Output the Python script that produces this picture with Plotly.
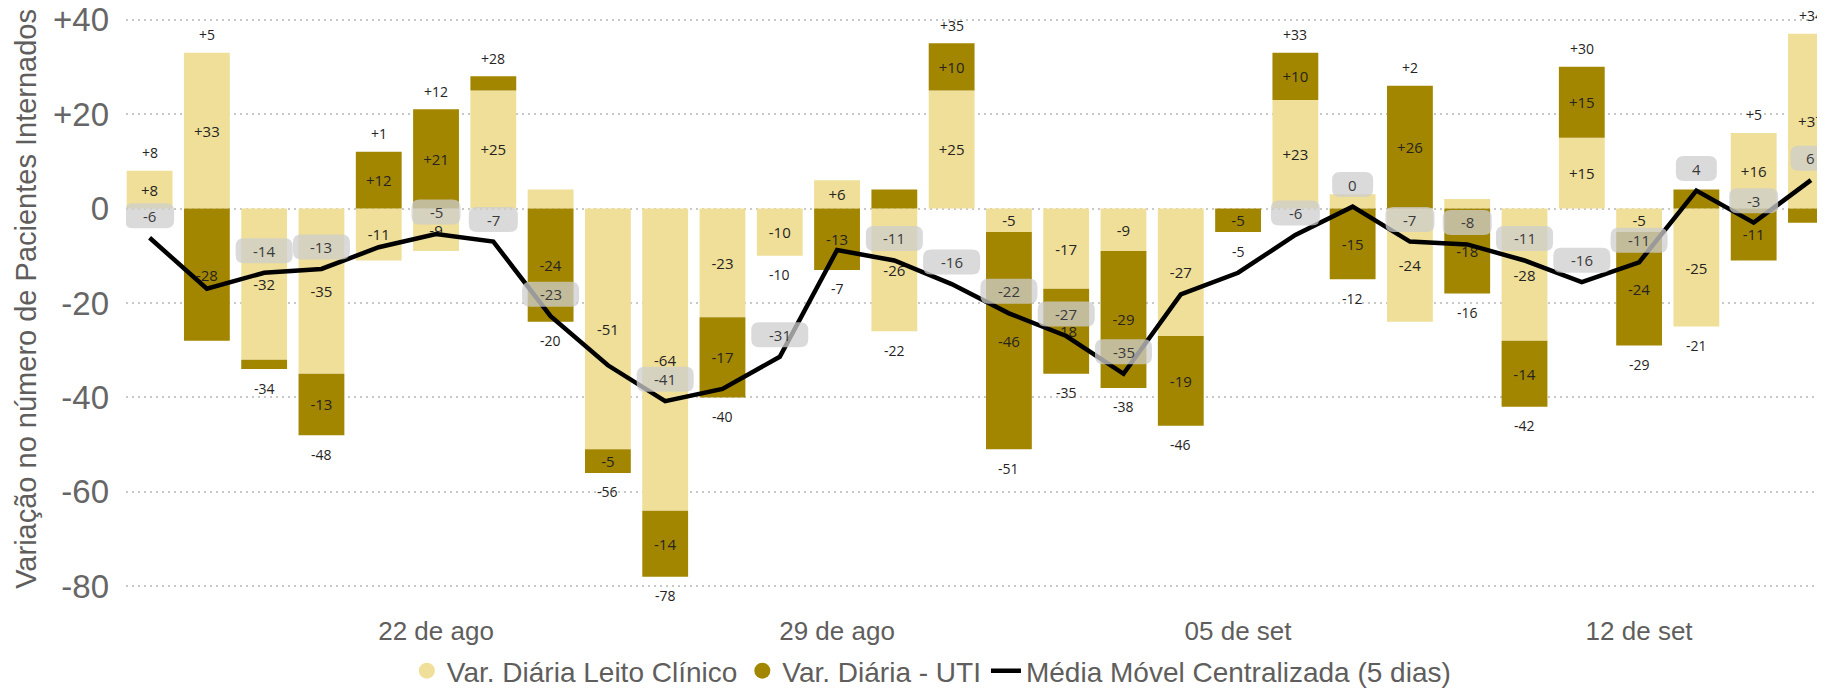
import plotly.graph_objects as go

# ---------------- data ----------------
dates = ["2020-08-17", "2020-08-18", "2020-08-19", "2020-08-20", "2020-08-21",
         "2020-08-22", "2020-08-23", "2020-08-24", "2020-08-25", "2020-08-26",
         "2020-08-27", "2020-08-28", "2020-08-29", "2020-08-30", "2020-08-31",
         "2020-09-01", "2020-09-02", "2020-09-03", "2020-09-04", "2020-09-05",
         "2020-09-06", "2020-09-07", "2020-09-08", "2020-09-09", "2020-09-10",
         "2020-09-11", "2020-09-12", "2020-09-13", "2020-09-14", "2020-09-15"]

leito_clinico = [8, 33, -32, -35, -11, -9, 25, 4, -51, -64,
                 -23, -10, 6, -26, 25, -5, -17, -9, -27, 0,
                 23, 3, -24, 2, -28, 15, -5, -25, 16, 37]

uti = [0, -28, -2, -13, 12, 21, 3, -24, -5, -14,
       -17, 0, -13, 4, 10, -46, -18, -29, -19, -5,
       10, -15, 26, -18, -14, 15, -24, 4, -11, -3]

media_movel = [-6.2, -17.0, -13.6, -12.8, -8.2, -5.4, -7.0, -22.8, -33.2, -40.8,
               -38.2, -31.4, -8.8, -11.0, -16.0, -22.2, -27.0, -35.0, -18.2, -13.6,
               -5.6, 0.4, -7.0, -7.6, -11.0, -15.6, -11.4, 3.8, -3.0, 6.0]

# which moving-average labels are visible in the original (others hidden by overlap)
media_label_visivel = [1, 0, 1, 1, 0, 1, 1, 1, 0, 1,
                       0, 1, 0, 1, 1, 1, 1, 1, 0, 0,
                       1, 1, 1, 1, 1, 1, 1, 1, 1, 1]

tick_dates = ["2020-08-22", "2020-08-29", "2020-09-05", "2020-09-12"]
tick_labels = ["22 de ago", "29 de ago", "05 de set", "12 de set"]

y_ticks = [40, 20, 0, -20, -40, -60, -80]
y_tick_labels = ["+40", "+20", "0", "-20", "-40", "-60", "-80"]

titulo_y = "Variação no número de Pacientes Internados"
nome_clinico = "Var. Diária Leito Clínico"
nome_uti = "Var. Diária - UTI"
nome_media = "Média Móvel Centralizada (5 dias)"

# ---------------- style ----------------
LIGHT = "#EFDF99"
DARK = "#A38600"
LABEL_FONT = "Segoe UI, Open Sans, sans-serif"
AXIS_FONT = "Liberation Sans, Arial, sans-serif"
TXT = "#252423"
GRID = "#C8C8C8"

# the page places the figure 8px in from the top-left corner of the window,
# so the figure is sized to fill the rest of the 1825x688 window exactly
FIG_W, FIG_H = 1817, 680
M_L, M_B = 118, 83


def seg_text(vals):
    return [f"{v:+d}" if abs(v) >= 5 else "" for v in vals]


fig = go.Figure()

fig.add_trace(go.Bar(
    x=dates, y=leito_clinico, name=nome_clinico, marker_color=LIGHT,
    marker_line_width=0,
    text=seg_text(leito_clinico), textposition="inside",
    insidetextanchor="middle", textangle=0,
    textfont=dict(size=15, color=TXT, family=LABEL_FONT),
    showlegend=False, hoverinfo="skip"))

fig.add_trace(go.Bar(
    x=dates, y=uti, name=nome_uti, marker_color=DARK,
    marker_line_width=0,
    text=seg_text(uti), textposition="inside",
    insidetextanchor="middle", textangle=0,
    textfont=dict(size=15, color=TXT, family=LABEL_FONT),
    showlegend=False, hoverinfo="skip"))

# legend proxies (circle markers)
fig.add_trace(go.Scatter(x=[None], y=[None], mode="markers", name=nome_clinico,
                         marker=dict(symbol="circle", size=17, color=LIGHT)))
fig.add_trace(go.Scatter(x=[None], y=[None], mode="markers", name=nome_uti,
                         marker=dict(symbol="circle", size=17, color=DARK)))

fig.add_trace(go.Scatter(
    x=dates, y=media_movel, mode="lines", name=nome_media,
    line=dict(color="black", width=4.5), hoverinfo="skip"))

annotations = []
shapes = []

# totals above / below stacks
for d, c, u in zip(dates, leito_clinico, uti):
    total = c + u
    pos = max(c, 0) + max(u, 0)
    neg = min(c, 0) + min(u, 0)
    if total >= 0:
        annotations.append(dict(x=d, y=pos, yshift=18, text=f"{total:+d}",
                                showarrow=False,
                                font=dict(size=14, color=TXT, family=LABEL_FONT)))
    else:
        annotations.append(dict(x=d, y=neg, yshift=-19, text=f"{total:+d}",
                                showarrow=False,
                                font=dict(size=14, color=TXT, family=LABEL_FONT)))

# moving average label boxes
BOX_H = 25
BOX_R = 8
BOX_UP = 22
for d, v, show in zip(dates, media_movel, media_label_visivel):
    if not show:
        continue
    t = f"{round(v):d}"
    w = 33 + 8 * len(t)
    x0, x1 = -w / 2, w / 2
    y0, y1 = BOX_UP - BOX_H / 2, BOX_UP + BOX_H / 2
    r = BOX_R
    path = (f"M {x0 + r},{y0} L {x1 - r},{y0} Q {x1},{y0} {x1},{y0 + r} "
            f"L {x1},{y1 - r} Q {x1},{y1} {x1 - r},{y1} L {x0 + r},{y1} "
            f"Q {x0},{y1} {x0},{y1 - r} L {x0},{y0 + r} Q {x0},{y0} {x0 + r},{y0} Z")
    shapes.append(dict(type="path", xref="x", yref="y",
                       xsizemode="pixel", ysizemode="pixel",
                       xanchor=d, yanchor=v, path=path,
                       fillcolor="rgba(205,205,205,0.75)", line=dict(width=0),
                       layer="above"))
    annotations.append(dict(x=d, y=v, yshift=BOX_UP, text=t, showarrow=False,
                            font=dict(size=15, color="#3a3a3a", family=LABEL_FONT)))

# y-axis title as rotated annotation (for exact placement)
annotations.append(dict(
    text=titulo_y, xref="paper", yref="paper", x=0, y=0.512,
    xanchor="center", yanchor="middle", xshift=18.5 - M_L,
    textangle=-90, showarrow=False,
    font=dict(size=29, color="#605E5C", family=AXIS_FONT)))

fig.update_layout(
    width=FIG_W, height=FIG_H,
    margin=dict(l=M_L, r=0, t=0, b=M_B, autoexpand=False),
    paper_bgcolor="white", plot_bgcolor="white",
    barmode="relative", bargap=0.2,
    uniformtext=dict(minsize=15, mode="show"),
    showlegend=True,
    legend=dict(orientation="h", x=0.474, xanchor="center",
                yref="container", y=1 - 663 / FIG_H, yanchor="middle",
                font=dict(size=28, color="#605E5C", family=AXIS_FONT),
                itemwidth=30, tracegroupgap=0, bgcolor="rgba(0,0,0,0)"),
    annotations=annotations,
    shapes=shapes,
)

fig.update_xaxes(
    type="date",
    range=["2020-08-16 14:07", "2020-09-15 05:53"],
    tickvals=tick_dates, ticktext=tick_labels,
    tickfont=dict(size=26, color="#605E5C", family=AXIS_FONT),
    showgrid=False, zeroline=False, showline=False, ticks="",
    ticklabelstandoff=8, automargin=False, ticklabeloverflow="allow",
)

fig.update_yaxes(
    range=[-83.96, 42.46],
    tickvals=y_ticks, ticktext=y_tick_labels,
    tickfont=dict(size=33, color="#666666", family=AXIS_FONT),
    showgrid=True, gridcolor=GRID, gridwidth=2, griddash="2px,4px",
    zeroline=False, showline=False, ticks="",
    ticklabelstandoff=16, automargin=False, ticklabeloverflow="allow",
)

fig.write_html("out.html")
